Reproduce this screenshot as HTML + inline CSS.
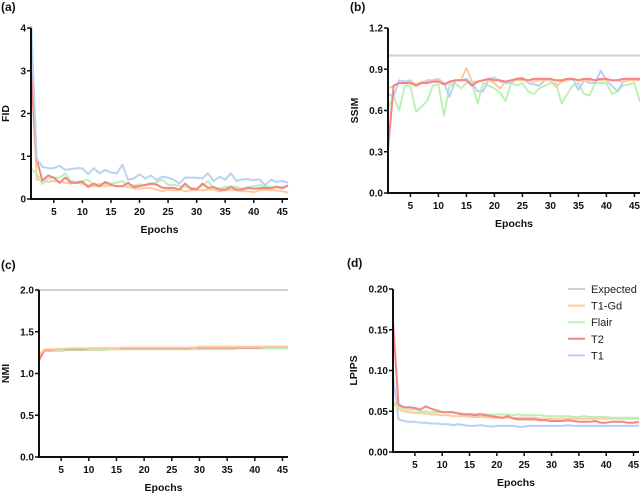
<!DOCTYPE html>
<html><head><meta charset="utf-8"><style>
body{margin:0;background:#fff;}
svg{display:block;font-family:"Liberation Sans",Arial,sans-serif;}
</style></head><body>
<svg id="fig" width="640" height="497" viewBox="0 0 640 497" xmlns="http://www.w3.org/2000/svg"></svg>
<script>
const epochs = Array.from({length:46},(_,i)=>i+1);
const seriesNames = ["Expected","T1-Gd","Flair","T2","T1"];
const xTicks = [5,10,15,20,25,30,35,40,45];

const fidT1 = [4.2,0.95,0.75,0.72,0.72,0.78,0.68,0.7,0.72,0.72,0.58,0.72,0.6,0.68,0.62,0.6,0.8,0.45,0.48,0.58,0.48,0.55,0.45,0.52,0.5,0.45,0.36,0.5,0.5,0.5,0.48,0.6,0.42,0.52,0.45,0.6,0.42,0.46,0.46,0.44,0.46,0.32,0.45,0.4,0.42,0.38];
const fidT2 = [3.0,0.92,0.43,0.55,0.5,0.38,0.5,0.38,0.38,0.4,0.28,0.36,0.3,0.4,0.33,0.3,0.3,0.38,0.28,0.3,0.33,0.36,0.34,0.26,0.26,0.26,0.22,0.36,0.24,0.22,0.36,0.26,0.28,0.22,0.22,0.28,0.22,0.22,0.26,0.24,0.25,0.26,0.25,0.28,0.25,0.32];
const fidFlair = [0.7,0.6,0.35,0.48,0.5,0.5,0.6,0.42,0.4,0.42,0.45,0.32,0.35,0.35,0.37,0.38,0.42,0.3,0.32,0.34,0.32,0.35,0.4,0.45,0.33,0.33,0.3,0.28,0.26,0.25,0.3,0.42,0.25,0.25,0.28,0.3,0.28,0.25,0.28,0.3,0.32,0.3,0.28,0.3,0.28,0.3];
const fidT1Gd = [3.05,0.45,0.45,0.4,0.42,0.4,0.38,0.36,0.38,0.36,0.32,0.3,0.3,0.3,0.32,0.3,0.3,0.28,0.24,0.24,0.26,0.26,0.22,0.18,0.22,0.2,0.22,0.18,0.2,0.22,0.2,0.22,0.22,0.18,0.2,0.22,0.2,0.18,0.18,0.16,0.2,0.22,0.2,0.2,0.18,0.15];
const fidTicks = [0,1,2,3,4];

const ssimT2 = [0.32,0.78,0.8,0.8,0.8,0.78,0.8,0.8,0.81,0.81,0.79,0.81,0.82,0.82,0.82,0.78,0.81,0.82,0.83,0.82,0.82,0.81,0.82,0.83,0.83,0.82,0.83,0.83,0.83,0.83,0.82,0.82,0.83,0.83,0.82,0.83,0.83,0.82,0.83,0.83,0.82,0.82,0.83,0.83,0.83,0.83];
const ssimT1Gd = [0.76,0.78,0.8,0.8,0.81,0.79,0.81,0.81,0.81,0.82,0.79,0.8,0.82,0.82,0.91,0.81,0.81,0.82,0.82,0.8,0.76,0.81,0.82,0.82,0.82,0.82,0.81,0.82,0.82,0.82,0.77,0.81,0.82,0.83,0.82,0.82,0.82,0.82,0.82,0.82,0.82,0.82,0.81,0.82,0.82,0.82];
const ssimT1 = [0.72,0.7,0.82,0.81,0.82,0.78,0.8,0.82,0.82,0.83,0.8,0.7,0.82,0.82,0.83,0.8,0.74,0.74,0.83,0.84,0.81,0.8,0.8,0.83,0.84,0.8,0.79,0.78,0.82,0.82,0.82,0.81,0.82,0.83,0.75,0.82,0.8,0.8,0.89,0.82,0.78,0.74,0.81,0.82,0.82,0.83];
const ssimFlair = [0.62,0.7,0.6,0.78,0.78,0.59,0.63,0.67,0.78,0.79,0.56,0.78,0.8,0.76,0.8,0.8,0.65,0.8,0.78,0.76,0.73,0.67,0.8,0.78,0.8,0.74,0.72,0.76,0.78,0.8,0.8,0.65,0.72,0.78,0.8,0.72,0.71,0.8,0.8,0.8,0.72,0.74,0.78,0.79,0.8,0.66];
const ssimTicks = [0,0.3,0.6,0.9,1.2];

const nmiT1 = [1.22,1.28,1.28,1.28,1.29,1.29,1.29,1.29,1.29,1.29,1.3,1.3,1.3,1.3,1.3,1.3,1.3,1.3,1.3,1.3,1.3,1.3,1.3,1.3,1.3,1.3,1.3,1.31,1.31,1.31,1.31,1.31,1.31,1.31,1.31,1.31,1.31,1.31,1.31,1.31,1.31,1.31,1.31,1.31,1.31,1.31];
const nmiT2 = [1.16,1.28,1.28,1.29,1.29,1.29,1.29,1.29,1.29,1.3,1.3,1.3,1.3,1.3,1.3,1.3,1.3,1.3,1.3,1.3,1.3,1.3,1.3,1.3,1.3,1.3,1.3,1.3,1.31,1.31,1.31,1.31,1.31,1.31,1.31,1.31,1.31,1.31,1.31,1.31,1.31,1.32,1.32,1.32,1.32,1.32];
const nmiFlair = [1.22,1.27,1.27,1.27,1.27,1.28,1.28,1.28,1.28,1.28,1.28,1.28,1.28,1.29,1.29,1.29,1.29,1.29,1.29,1.29,1.29,1.29,1.29,1.29,1.29,1.29,1.29,1.29,1.29,1.29,1.29,1.29,1.29,1.29,1.29,1.29,1.3,1.3,1.3,1.3,1.3,1.3,1.3,1.3,1.3,1.3];
const nmiT1Gd = [1.22,1.29,1.29,1.29,1.29,1.3,1.3,1.3,1.3,1.3,1.3,1.3,1.3,1.3,1.3,1.31,1.31,1.31,1.31,1.31,1.31,1.31,1.31,1.31,1.31,1.31,1.31,1.31,1.31,1.32,1.32,1.32,1.32,1.32,1.32,1.32,1.32,1.32,1.32,1.32,1.32,1.32,1.32,1.32,1.32,1.32];
const nmiTicks = [0,0.5,1.0,1.5,2.0];

const lpipsT2 = [0.16,0.058,0.055,0.055,0.054,0.052,0.056,0.053,0.051,0.049,0.049,0.049,0.047,0.046,0.046,0.045,0.046,0.045,0.044,0.043,0.042,0.044,0.041,0.04,0.04,0.04,0.04,0.039,0.039,0.038,0.038,0.038,0.039,0.038,0.037,0.037,0.037,0.038,0.036,0.036,0.037,0.037,0.037,0.036,0.036,0.037];
const lpipsFlair = [0.06,0.055,0.053,0.052,0.052,0.05,0.05,0.049,0.049,0.049,0.049,0.048,0.048,0.047,0.047,0.047,0.047,0.046,0.046,0.046,0.046,0.046,0.045,0.046,0.045,0.045,0.045,0.045,0.044,0.044,0.044,0.044,0.044,0.043,0.043,0.044,0.043,0.043,0.043,0.043,0.042,0.042,0.042,0.042,0.042,0.042];
const lpipsT1Gd = [0.062,0.052,0.05,0.049,0.048,0.048,0.047,0.046,0.046,0.045,0.045,0.044,0.044,0.044,0.043,0.043,0.043,0.043,0.042,0.042,0.042,0.042,0.042,0.042,0.042,0.042,0.042,0.041,0.041,0.041,0.041,0.041,0.041,0.041,0.041,0.041,0.041,0.041,0.041,0.041,0.041,0.041,0.041,0.041,0.041,0.041];
const lpipsT1 = [0.095,0.04,0.038,0.037,0.037,0.036,0.036,0.035,0.035,0.034,0.034,0.033,0.034,0.033,0.032,0.032,0.033,0.032,0.031,0.032,0.032,0.032,0.032,0.031,0.031,0.032,0.032,0.032,0.032,0.032,0.032,0.032,0.033,0.032,0.032,0.032,0.032,0.032,0.032,0.032,0.032,0.032,0.032,0.032,0.032,0.032];
const lpipsTicks = [0,0.05,0.10,0.15,0.20];

const colors = {"Expected":"#cfcfcf","T1-Gd":"#fdcb9f","Flair":"#bdf0b6","T2":"#f58484","T1":"#b8d2f5"};
const NS="http://www.w3.org/2000/svg";
const svg=document.getElementById('fig');
function mk(tag,attrs,parent){const e=document.createElementNS(NS,tag);for(const k in attrs)e.setAttribute(k,attrs[k]);(parent||svg).appendChild(e);return e;}

function panel(p){
  const g=mk('g',{});
  
  
  const sx=e=>p.x0+(e-1)*(p.x1-p.x0)/45;
  const sy=v=>p.yb-(v-p.ymin)*(p.yb-p.yt)/(p.ymax-p.ymin);
  const clip='clip-'+p.name;
  const cp=mk('clipPath',{id:clip},g); mk('rect',{x:p.x0-2,y:p.yt-2,width:p.x1-p.x0+4,height:p.yb-p.yt+3},cp);
  const lab=mk('text',{x:p.lx,y:p.ly,'font-size':12,'font-weight':'bold',fill:'#111'},g); lab.textContent=p.label;
   
  if(p.expected!=null){
    const ex=mk('line',{x1:p.x0,x2:p.x1,y1:sy(p.expected),y2:sy(p.expected),stroke:colors.Expected,'stroke-width':2},g);
     
  }
  p.series.forEach(s=>{
    const d=s.data.map((v,i)=>(i?'L':'M')+sx(epochs[i]).toFixed(1)+','+sy(v).toFixed(1)).join('');
    const pl=mk('path',{d:d,fill:'none',stroke:colors[s.key],'stroke-width':2,'stroke-linejoin':'round','clip-path':'url(#'+clip+')'},g);
    
    
  });
  // axes
  const ax=mk('path',{d:`M${p.x0},${p.yt}V${p.yb}H${p.x1}`,fill:'none',stroke:'#111','stroke-width':2},g);
   
  p.yticks.forEach(t=>{
    mk('line',{x1:p.x0-4,x2:p.x0,y1:sy(t),y2:sy(t),stroke:'#111','stroke-width':1.5},g);
    const tt=mk('text',{x:p.x0-5,y:sy(t)+3.5,'font-size':10,'font-weight':'bold','text-anchor':'end',fill:'#111'},g);
    tt.textContent=t.toFixed(p.dec);
     
  });
  xTicks.forEach(t=>{
    mk('line',{x1:sx(t),x2:sx(t),y1:p.yb,y2:p.yb+4,stroke:'#111','stroke-width':1.5},g);
    const tt=mk('text',{x:sx(t),y:p.yb+16,'font-size':10,'font-weight':'bold','text-anchor':'middle',fill:'#111'},g);
    tt.textContent=t;
     
  });
  const xt=mk('text',{x:(p.x0+p.x1)/2,y:p.yb+34,'font-size':10.5,'font-weight':'bold','text-anchor':'middle',fill:'#111'},g);
  xt.textContent='Epochs';  
  const yc=(p.yt+p.yb)/2;
  const yt=mk('text',{x:p.ytx,y:yc,'font-size':10.5,'font-weight':'bold','text-anchor':'middle',fill:'#111',transform:`rotate(-90 ${p.ytx} ${yc})`},g);
  yt.textContent=p.ytitle;  
}

panel({name:'panel-fid',label:'(a)',lx:1,ly:11,x0:31,x1:288,yt:28,yb:199,ymin:0,ymax:4,yticks:fidTicks,dec:0,ytitle:'FID',ytx:9,expected:null,
  series:[{key:'T1-Gd',data:fidT1Gd},{key:'Flair',data:fidFlair},{key:'T2',data:fidT2},{key:'T1',data:fidT1}]});
panel({name:'panel-ssim',label:'(b)',lx:350,ly:11,x0:388,x1:640,yt:28,yb:193,ymin:0,ymax:1.2,yticks:ssimTicks,dec:1,ytitle:'SSIM',ytx:358,expected:1.0,
  series:[{key:'Flair',data:ssimFlair},{key:'T1',data:ssimT1},{key:'T1-Gd',data:ssimT1Gd},{key:'T2',data:ssimT2}]});
panel({name:'panel-nmi',label:'(c)',lx:1,ly:269,x0:39,x1:288,yt:290,yb:457,ymin:0,ymax:2,yticks:nmiTicks,dec:1,ytitle:'NMI',ytx:9,expected:2.0,
  series:[{key:'T1',data:nmiT1},{key:'Flair',data:nmiFlair},{key:'T2',data:nmiT2},{key:'T1-Gd',data:nmiT1Gd}]});
panel({name:'panel-lpips',label:'(d)',lx:347,ly:267,x0:393,x1:639,yt:289,yb:452,ymin:0,ymax:0.2,yticks:lpipsTicks,dec:2,ytitle:'LPIPS',ytx:357,expected:null,
  series:[{key:'T1',data:lpipsT1},{key:'T1-Gd',data:lpipsT1Gd},{key:'Flair',data:lpipsFlair},{key:'T2',data:lpipsT2}]});

const leg=mk('g',{});
 
seriesNames.forEach((n,i)=>{
  const y=289+i*16.6;
  const e=mk('g',{},leg);
   
  mk('line',{x1:568,x2:585,y1:y,y2:y,stroke:colors[n],'stroke-width':2},e);
  const t=mk('text',{x:591,y:y+4,'font-size':11,fill:'#222'},e); t.textContent=n;
});
</script>
</body></html>
